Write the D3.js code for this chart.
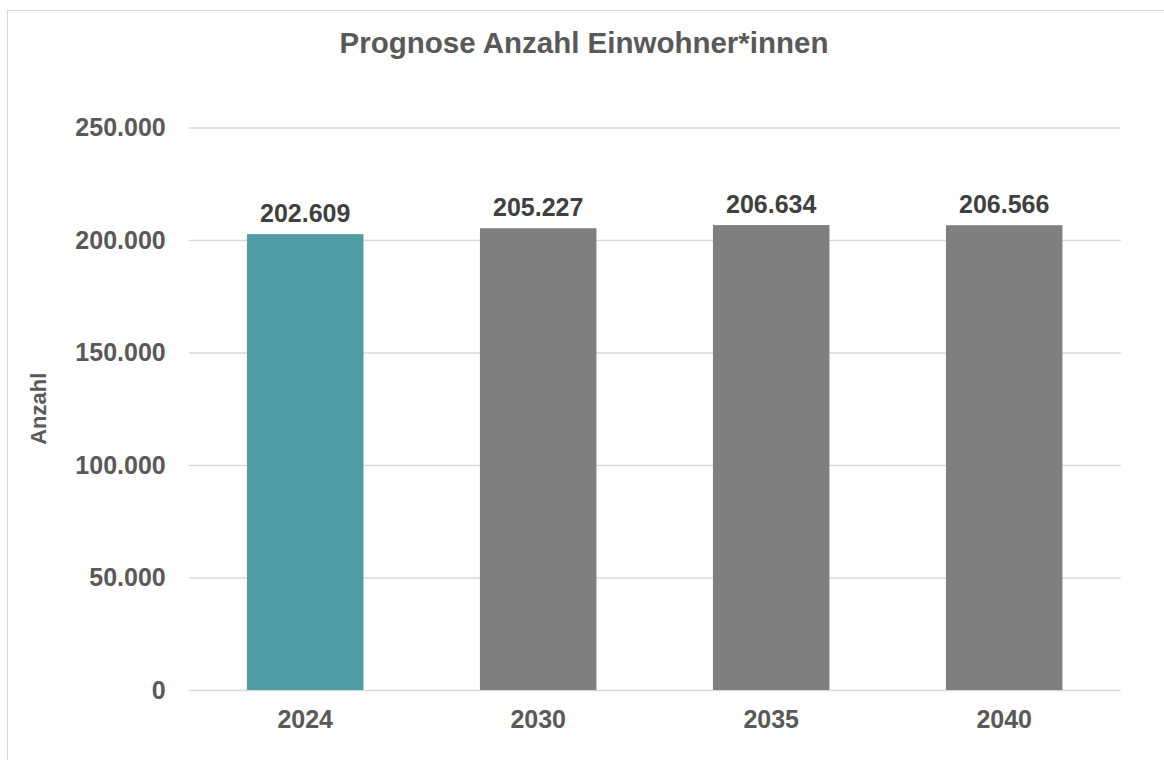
<!DOCTYPE html>
<html>
<head>
<meta charset="utf-8">
<script src="https://cdn.jsdelivr.net/npm/d3@7"></script>
<style>
body{margin:0;background:#fff;}
svg{display:block;font-family:"Liberation Sans",Arial,sans-serif;font-weight:bold;}
</style>
</head>
<body>
<svg id="svg" width="1164" height="760"></svg>
<script>
var years=['2024','2030','2035','2040'];
var residents=[202609,205227,206634,206566];
var barColors=['#4f9ca5','#7f7f7f','#7f7f7f','#7f7f7f'];
var yTicks=[0,50000,100000,150000,200000,250000];

var svg=d3.select("#svg");

var padding={top:127.5,right:43.3,bottom:70,left:188.7};
var chartarea={
	width:1164-padding.left-padding.right,
	height:760-padding.top-padding.bottom
};

// german number format: dot as thousands separator
var de=d3.formatLocale({decimal:",",thousands:".",grouping:[3],currency:["","€"]});
var fmt=de.format(",d");

// outer frame
svg.append("rect")
.attr("x",7.5).attr("y",10.5)
.attr("width",1170).attr("height",760)
.attr("fill","none").attr("stroke","#d9d9d9");

var yscale=d3.scaleLinear().domain([0,250000]).range([chartarea.height,0]);
var xscale=d3.scaleBand().domain(years).range([0,chartarea.width]).paddingInner(.5).paddingOuter(.25);

var g=svg.append("g").attr("transform","translate("+padding.left+","+padding.top+")");

// gridlines
var yaxis=g.append("g").classed("yaxis",true)
.call(d3.axisLeft(yscale).tickValues(yTicks).tickFormat(fmt).tickSize(-chartarea.width).tickPadding(23));
yaxis.select(".domain").remove();
yaxis.selectAll("line").attr("stroke","#d9d9d9").attr("stroke-width",1.3);
yaxis.selectAll("text").attr("fill","#595959").style("font-size","25px").style("font-family","Liberation Sans, Arial, sans-serif").attr("font-weight","bold");

var xaxis=g.append("g").classed("xaxis",true)
.attr("transform","translate(0,"+chartarea.height+")")
.call(d3.axisBottom(xscale).tickSize(0).tickPadding(20));
xaxis.select(".domain").remove();
xaxis.selectAll("text").attr("fill","#595959").style("font-size","25px").style("font-family","Liberation Sans, Arial, sans-serif").attr("font-weight","bold").attr("dy","0.71em");

var data=years.map(function(y,i){return {year:y,value:residents[i]};});

g.selectAll("rect.bar").data(data).enter()
.append("rect").attr("class","bar")
.attr("x",function(d){return xscale(d.year);})
.attr("y",function(d){return yscale(d.value);})
.attr("width",xscale.bandwidth())
.attr("height",function(d){return chartarea.height-yscale(d.value);})
.attr("fill",function(d,i){return barColors[i];});

g.selectAll("text.val").data(data).enter()
.append("text").attr("class","val")
.attr("x",function(d){return xscale(d.year)+xscale.bandwidth()/2;})
.attr("y",function(d){return yscale(d.value)-12.5;})
.attr("text-anchor","middle")
.attr("fill","#404040")
.style("font-size","25px")
.text(function(d){return fmt(d.value);});

// title
svg.append("text")
.attr("x",584).attr("y",52.5)
.attr("text-anchor","middle")
.attr("fill","#595959")
.style("font-size","29.5px")
.text("Prognose Anzahl Einwohner*innen");

// y axis title
svg.append("text")
.attr("transform","translate(46,"+(padding.top+chartarea.height/2)+") rotate(-90)")
.attr("text-anchor","middle")
.attr("fill","#595959")
.style("font-size","22px")
.text("Anzahl");
</script>
</body>
</html>
